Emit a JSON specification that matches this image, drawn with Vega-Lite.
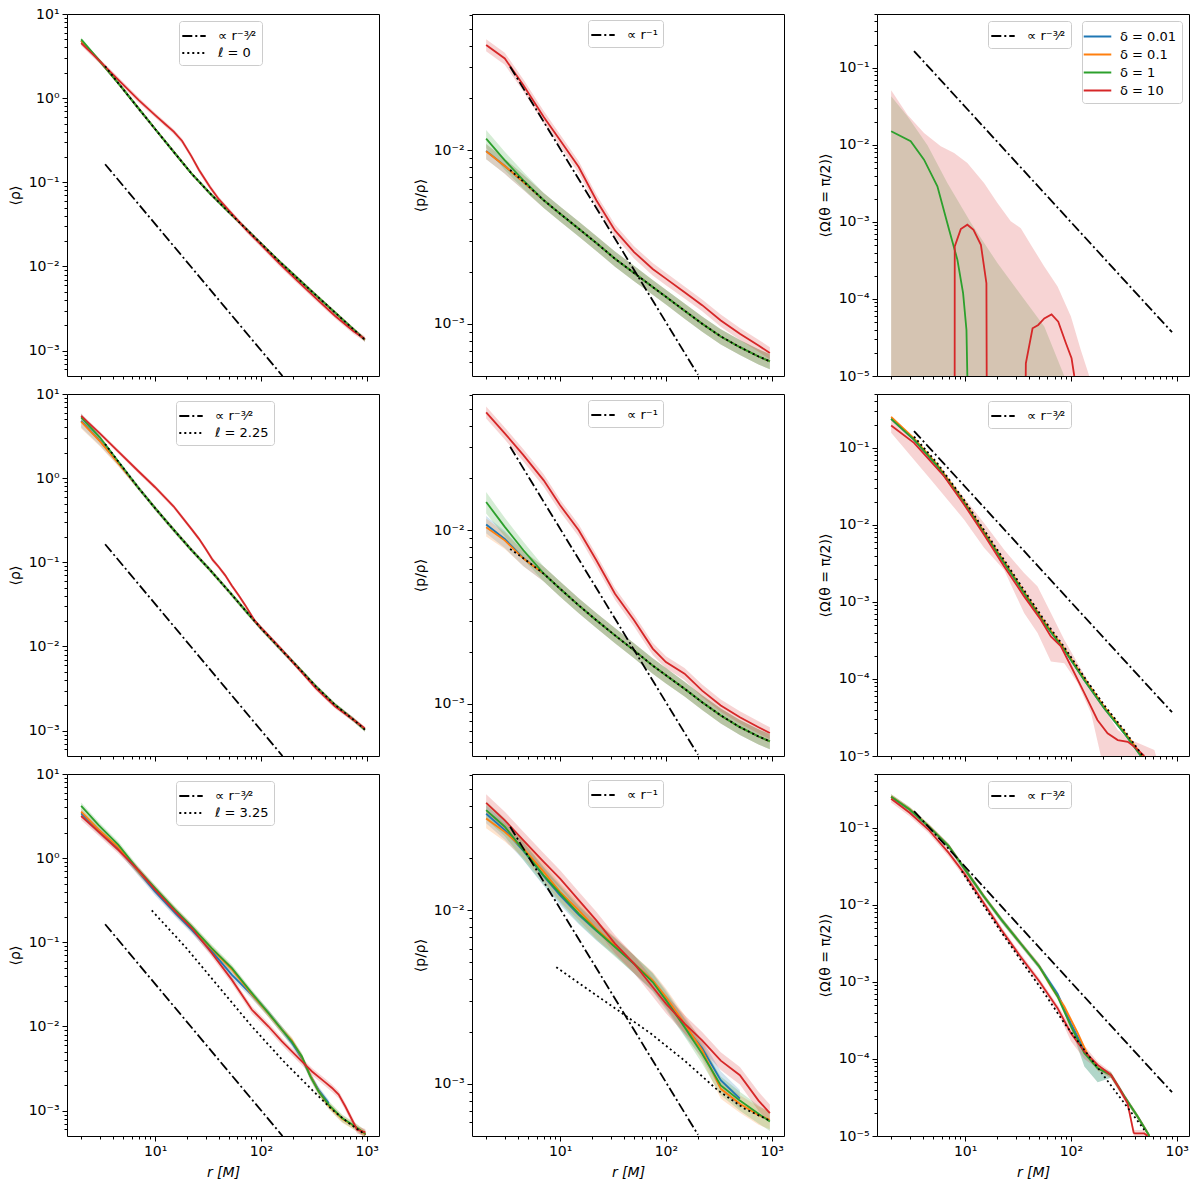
{
"$schema":"https://vega.github.io/schema/vega-lite/v6.json",
"background":"white",
"padding":{"left":7,"top":6,"right":5,"bottom":5},
"columns":3,
"spacing":{"row":18,"column":93},
"bounds":"flush",
"resolve":{"scale":{"x":"independent","y":"independent","color":"independent","fill":"independent","strokeDash":"independent"},"axis":{"x":"independent","y":"independent"},"legend":{"color":"independent","fill":"independent","strokeDash":"independent"}},
"config":{
 "font":"DejaVu Sans",
 "view":{"stroke":"black","strokeWidth":1},
 "axis":{"labelFont":"DejaVu Sans","labelFontSize":14,"labelColor":"black","titleFont":"DejaVu Sans","titleFontSize":14,"titleFontWeight":"normal","titleColor":"black","tickColor":"black","tickWidth":1,"domain":false,"grid":false,"labelFlush":false,"labelOverlap":false,"labelPadding":3},
 "legend":{"labelFont":"DejaVu Sans","labelFontSize":13,"labelColor":"black","symbolStrokeWidth":2,"symbolSize":324,"symbolType":"M-1.3,0H1.3","fillColor":"white","strokeColor":"#cccccc","cornerRadius":3,"padding":5,"rowPadding":0,"labelOffset":14}
},
"datasets":{
"A":[
{"s":"0.01","r":2,"y":4.8,"lo":4.56,"hi":5.04},{"s":"0.01","r":3,"y":2.75,"lo":2.61,"hi":2.89},{"s":"0.01","r":4.5,"y":1.5,"lo":1.43,"hi":1.58},{"s":"0.01","r":7,"y":0.75,"lo":0.71,"hi":0.79},{"s":"0.01","r":10,"y":0.43,"lo":0.41,"hi":0.45},{"s":"0.01","r":15,"y":0.23,"lo":0.219,"hi":0.242},{"s":"0.01","r":22,"y":0.128,"lo":0.122,"hi":0.134},{"s":"0.01","r":33,"y":0.074,"lo":0.07,"hi":0.078},{"s":"0.01","r":50,"y":0.044,"lo":0.042,"hi":0.046},{"s":"0.01","r":75,"y":0.0268,"lo":0.0255,"hi":0.0281},{"s":"0.01","r":100,"y":0.0188,"lo":0.0179,"hi":0.0197},{"s":"0.01","r":150,"y":0.0114,"lo":0.0108,"hi":0.012},{"s":"0.01","r":220,"y":0.0073,"lo":0.0069,"hi":0.0077},{"s":"0.01","r":330,"y":0.00458,"lo":0.00435,"hi":0.00481},{"s":"0.01","r":500,"y":0.00285,"lo":0.00271,"hi":0.00299},{"s":"0.01","r":750,"y":0.00179,"lo":0.0017,"hi":0.00188},{"s":"0.01","r":960,"y":0.00135,"lo":0.00128,"hi":0.00142},
{"s":"0.1","r":2,"y":4.8,"lo":4.56,"hi":5.04},{"s":"0.1","r":3,"y":2.75,"lo":2.61,"hi":2.89},{"s":"0.1","r":4.5,"y":1.5,"lo":1.43,"hi":1.58},{"s":"0.1","r":7,"y":0.75,"lo":0.71,"hi":0.79},{"s":"0.1","r":10,"y":0.43,"lo":0.41,"hi":0.45},{"s":"0.1","r":15,"y":0.23,"lo":0.219,"hi":0.242},{"s":"0.1","r":22,"y":0.128,"lo":0.122,"hi":0.134},{"s":"0.1","r":33,"y":0.074,"lo":0.07,"hi":0.078},{"s":"0.1","r":50,"y":0.044,"lo":0.042,"hi":0.046},{"s":"0.1","r":75,"y":0.0268,"lo":0.0255,"hi":0.0281},{"s":"0.1","r":100,"y":0.0188,"lo":0.0179,"hi":0.0197},{"s":"0.1","r":150,"y":0.0114,"lo":0.0108,"hi":0.012},{"s":"0.1","r":220,"y":0.0073,"lo":0.0069,"hi":0.0077},{"s":"0.1","r":330,"y":0.00458,"lo":0.00435,"hi":0.00481},{"s":"0.1","r":500,"y":0.00285,"lo":0.00271,"hi":0.00299},{"s":"0.1","r":750,"y":0.00179,"lo":0.0017,"hi":0.00188},{"s":"0.1","r":960,"y":0.00135,"lo":0.00128,"hi":0.00142},
{"s":"1","r":2,"y":5.0,"lo":4.75,"hi":5.25},{"s":"1","r":3,"y":2.75,"lo":2.61,"hi":2.89},{"s":"1","r":4.5,"y":1.5,"lo":1.43,"hi":1.58},{"s":"1","r":7,"y":0.75,"lo":0.71,"hi":0.79},{"s":"1","r":10,"y":0.43,"lo":0.41,"hi":0.45},{"s":"1","r":15,"y":0.23,"lo":0.219,"hi":0.242},{"s":"1","r":22,"y":0.128,"lo":0.122,"hi":0.134},{"s":"1","r":33,"y":0.074,"lo":0.07,"hi":0.078},{"s":"1","r":50,"y":0.044,"lo":0.042,"hi":0.046},{"s":"1","r":75,"y":0.0268,"lo":0.0255,"hi":0.0281},{"s":"1","r":100,"y":0.0188,"lo":0.0179,"hi":0.0197},{"s":"1","r":150,"y":0.0114,"lo":0.0108,"hi":0.012},{"s":"1","r":220,"y":0.0073,"lo":0.0069,"hi":0.0077},{"s":"1","r":330,"y":0.00458,"lo":0.00435,"hi":0.00481},{"s":"1","r":500,"y":0.00285,"lo":0.00271,"hi":0.00299},{"s":"1","r":750,"y":0.00179,"lo":0.0017,"hi":0.00188},{"s":"1","r":960,"y":0.00135,"lo":0.00128,"hi":0.00142},
{"s":"10","r":2,"y":4.5,"lo":4.19,"hi":4.82},{"s":"10","r":3,"y":2.75,"lo":2.56,"hi":2.94},{"s":"10","r":4.5,"y":1.65,"lo":1.53,"hi":1.77},{"s":"10","r":7,"y":0.95,"lo":0.88,"hi":1.02},{"s":"10","r":10,"y":0.63,"lo":0.59,"hi":0.67},{"s":"10","r":12.5,"y":0.49,"lo":0.456,"hi":0.524},{"s":"10","r":15,"y":0.4,"lo":0.372,"hi":0.428},{"s":"10","r":18,"y":0.31,"lo":0.288,"hi":0.332},{"s":"10","r":22,"y":0.205,"lo":0.19,"hi":0.22},{"s":"10","r":26,"y":0.14,"lo":0.13,"hi":0.15},{"s":"10","r":33,"y":0.088,"lo":0.0818,"hi":0.0942},{"s":"10","r":40,"y":0.063,"lo":0.0586,"hi":0.0674},{"s":"10","r":50,"y":0.046,"lo":0.0428,"hi":0.0492},{"s":"10","r":75,"y":0.0262,"lo":0.0244,"hi":0.028},{"s":"10","r":100,"y":0.0182,"lo":0.0169,"hi":0.0195},{"s":"10","r":150,"y":0.0108,"lo":0.01,"hi":0.0116},{"s":"10","r":220,"y":0.0068,"lo":0.00632,"hi":0.00728},{"s":"10","r":330,"y":0.0042,"lo":0.00391,"hi":0.00449},{"s":"10","r":500,"y":0.0026,"lo":0.00242,"hi":0.00278},{"s":"10","r":750,"y":0.0017,"lo":0.00158,"hi":0.00182},{"s":"10","r":960,"y":0.00138,"lo":0.00128,"hi":0.00148}
],
"AR":[
{"lab":"∝ r⁻³⁄²","r":3.37,"y":0.164},{"lab":"∝ r⁻³⁄²","r":160,"y":0.0005},
{"lab":"ℓ = 0","r":3.37,"y":2.4},{"lab":"ℓ = 0","r":4.5,"y":1.5},{"lab":"ℓ = 0","r":7,"y":0.75},{"lab":"ℓ = 0","r":10,"y":0.43},{"lab":"ℓ = 0","r":15,"y":0.23},{"lab":"ℓ = 0","r":22,"y":0.128},{"lab":"ℓ = 0","r":33,"y":0.074},{"lab":"ℓ = 0","r":50,"y":0.044},{"lab":"ℓ = 0","r":75,"y":0.0268},{"lab":"ℓ = 0","r":100,"y":0.0188},{"lab":"ℓ = 0","r":150,"y":0.0114},{"lab":"ℓ = 0","r":220,"y":0.0073},{"lab":"ℓ = 0","r":330,"y":0.00458},{"lab":"ℓ = 0","r":500,"y":0.00285},{"lab":"ℓ = 0","r":750,"y":0.00179},{"lab":"ℓ = 0","r":960,"y":0.00135}
],
"B":[
{"s":"0.01","r":2,"y":0.0099,"lo":0.00888,"hi":0.01086},{"s":"0.01","r":3,"y":0.00812,"lo":0.00731,"hi":0.00893},{"s":"0.01","r":4.5,"y":0.00656,"lo":0.0059,"hi":0.00722},{"s":"0.01","r":7,"y":0.00515,"lo":0.00464,"hi":0.00567},{"s":"0.01","r":10,"y":0.00431,"lo":0.00388,"hi":0.00474},{"s":"0.01","r":15,"y":0.00353,"lo":0.00318,"hi":0.00388},{"s":"0.01","r":22,"y":0.00292,"lo":0.00263,"hi":0.00321},{"s":"0.01","r":33,"y":0.00237,"lo":0.00213,"hi":0.00261},{"s":"0.01","r":50,"y":0.00196,"lo":0.00176,"hi":0.00216},{"s":"0.01","r":75,"y":0.00163,"lo":0.00147,"hi":0.00179},{"s":"0.01","r":100,"y":0.00143,"lo":0.00129,"hi":0.00157},{"s":"0.01","r":150,"y":0.00119,"lo":0.00107,"hi":0.00131},{"s":"0.01","r":220,"y":0.001,"lo":0.0009,"hi":0.0011},{"s":"0.01","r":330,"y":0.000845,"lo":0.00076,"hi":0.00093},{"s":"0.01","r":500,"y":0.000733,"lo":0.00066,"hi":0.000806},{"s":"0.01","r":750,"y":0.000648,"lo":0.000583,"hi":0.000713},{"s":"0.01","r":960,"y":0.000607,"lo":0.000546,"hi":0.000668},
{"s":"0.1","r":2,"y":0.00987,"lo":0.00888,"hi":0.01086},{"s":"0.1","r":3,"y":0.00812,"lo":0.00731,"hi":0.00893},{"s":"0.1","r":4.5,"y":0.00656,"lo":0.0059,"hi":0.00722},{"s":"0.1","r":7,"y":0.00515,"lo":0.00464,"hi":0.00567},{"s":"0.1","r":10,"y":0.00431,"lo":0.00388,"hi":0.00474},{"s":"0.1","r":15,"y":0.00353,"lo":0.00318,"hi":0.00388},{"s":"0.1","r":22,"y":0.00292,"lo":0.00263,"hi":0.00321},{"s":"0.1","r":33,"y":0.00237,"lo":0.00213,"hi":0.00261},{"s":"0.1","r":50,"y":0.00196,"lo":0.00176,"hi":0.00216},{"s":"0.1","r":75,"y":0.00163,"lo":0.00147,"hi":0.00179},{"s":"0.1","r":100,"y":0.00143,"lo":0.00129,"hi":0.00157},{"s":"0.1","r":150,"y":0.00119,"lo":0.00107,"hi":0.00131},{"s":"0.1","r":220,"y":0.001,"lo":0.0009,"hi":0.0011},{"s":"0.1","r":330,"y":0.000845,"lo":0.00076,"hi":0.00093},{"s":"0.1","r":500,"y":0.000733,"lo":0.00066,"hi":0.000806},{"s":"0.1","r":750,"y":0.000648,"lo":0.000583,"hi":0.000713},{"s":"0.1","r":960,"y":0.000607,"lo":0.000546,"hi":0.000668},
{"s":"1","r":2,"y":0.01167,"lo":0.0103,"hi":0.0131},{"s":"1","r":3,"y":0.00875,"lo":0.0077,"hi":0.0098},{"s":"1","r":4.5,"y":0.00671,"lo":0.006,"hi":0.0075},{"s":"1","r":7,"y":0.00515,"lo":0.00464,"hi":0.00567},{"s":"1","r":10,"y":0.00431,"lo":0.00388,"hi":0.00474},{"s":"1","r":15,"y":0.00353,"lo":0.00318,"hi":0.00388},{"s":"1","r":22,"y":0.00292,"lo":0.00263,"hi":0.00321},{"s":"1","r":33,"y":0.00237,"lo":0.00213,"hi":0.00261},{"s":"1","r":50,"y":0.00196,"lo":0.00176,"hi":0.00216},{"s":"1","r":75,"y":0.00163,"lo":0.00147,"hi":0.00179},{"s":"1","r":100,"y":0.00143,"lo":0.00129,"hi":0.00157},{"s":"1","r":150,"y":0.00119,"lo":0.00107,"hi":0.00131},{"s":"1","r":220,"y":0.001,"lo":0.0009,"hi":0.0011},{"s":"1","r":330,"y":0.000845,"lo":0.00076,"hi":0.00093},{"s":"1","r":500,"y":0.000733,"lo":0.00066,"hi":0.000806},{"s":"1","r":750,"y":0.000648,"lo":0.000583,"hi":0.000713},{"s":"1","r":960,"y":0.000607,"lo":0.000546,"hi":0.000668},
{"s":"10","r":2,"y":0.0404,"lo":0.0372,"hi":0.0436},{"s":"10","r":3,"y":0.0338,"lo":0.0311,"hi":0.0365},{"s":"10","r":4.5,"y":0.0237,"lo":0.0218,"hi":0.0256},{"s":"10","r":7,"y":0.01557,"lo":0.01432,"hi":0.01682},{"s":"10","r":10,"y":0.01143,"lo":0.01052,"hi":0.01234},{"s":"10","r":15,"y":0.008,"lo":0.00736,"hi":0.00864},{"s":"10","r":22,"y":0.00515,"lo":0.00474,"hi":0.00556},{"s":"10","r":33,"y":0.00345,"lo":0.00317,"hi":0.00373},{"s":"10","r":50,"y":0.00259,"lo":0.00238,"hi":0.0028},{"s":"10","r":75,"y":0.00207,"lo":0.0019,"hi":0.00224},{"s":"10","r":100,"y":0.00182,"lo":0.00167,"hi":0.00197},{"s":"10","r":150,"y":0.00152,"lo":0.0014,"hi":0.00164},{"s":"10","r":220,"y":0.00128,"lo":0.00118,"hi":0.00138},{"s":"10","r":330,"y":0.001045,"lo":0.00096,"hi":0.00113},{"s":"10","r":500,"y":0.000875,"lo":0.000805,"hi":0.000945},{"s":"10","r":750,"y":0.00075,"lo":0.00069,"hi":0.00081},{"s":"10","r":960,"y":0.000678,"lo":0.000624,"hi":0.000732}
],
"BR":[
{"lab":"∝ r⁻¹","r":3.37,"y":0.0303},{"lab":"∝ r⁻¹","r":201,"y":0.000508},
{"lab":"ℓ","r":3.37,"y":0.0077},{"lab":"ℓ","r":4.5,"y":0.0066},{"lab":"ℓ","r":7,"y":0.00515},{"lab":"ℓ","r":10,"y":0.00431},{"lab":"ℓ","r":15,"y":0.00353},{"lab":"ℓ","r":22,"y":0.00292},{"lab":"ℓ","r":33,"y":0.00237},{"lab":"ℓ","r":50,"y":0.00196},{"lab":"ℓ","r":75,"y":0.00163},{"lab":"ℓ","r":100,"y":0.00143},{"lab":"ℓ","r":150,"y":0.00119},{"lab":"ℓ","r":220,"y":0.001},{"lab":"ℓ","r":330,"y":0.000845},{"lab":"ℓ","r":500,"y":0.000733},{"lab":"ℓ","r":750,"y":0.000648},{"lab":"ℓ","r":960,"y":0.000607}
],
"C":[
{"s":"1","r":2,"lo":0.00001,"hi":0.0428},{"s":"1","r":2.85,"lo":0.00001,"hi":0.0235},{"s":"1","r":4.41,"lo":0.00001,"hi":0.0099},{"s":"1","r":6.8,"lo":0.00001,"hi":0.0032},{"s":"1","r":11.3,"lo":0.00001,"hi":0.000985},{"s":"1","r":20.2,"lo":0.00001,"hi":0.000292},{"s":"1","r":36.1,"lo":0.00001,"hi":0.000099},{"s":"1","r":56,"lo":0.00001,"hi":0.0000438},{"s":"1","r":86.5,"lo":0.00001,"hi":0.00001},
{"s":"10","r":2,"lo":0.00001,"hi":0.0513},{"s":"10","r":2.85,"lo":0.00001,"hi":0.0247},{"s":"10","r":4.09,"lo":0.00001,"hi":0.0143},{"s":"10","r":5.89,"lo":0.00001,"hi":0.0096},{"s":"10","r":7.87,"lo":0.00001,"hi":0.00785},{"s":"10","r":10.5,"lo":0.00001,"hi":0.00582},{"s":"10","r":15.1,"lo":0.00001,"hi":0.0032},{"s":"10","r":20.2,"lo":0.00001,"hi":0.00176},{"s":"10","r":27,"lo":0.00001,"hi":0.00102},{"s":"10","r":33.6,"lo":0.00001,"hi":0.00083},{"s":"10","r":41.8,"lo":0.00001,"hi":0.000505},{"s":"10","r":56,"lo":0.00001,"hi":0.000264},{"s":"10","r":74.8,"lo":0.00001,"hi":0.000145},{"s":"10","r":100,"lo":0.00001,"hi":0.000059},{"s":"10","r":124,"lo":0.00001,"hi":0.0000218},{"s":"10","r":149,"lo":0.00001,"hi":0.00001},
{"s":"1","r":2,"y":0.01503},{"s":"1","r":3.06,"y":0.01114},{"s":"1","r":4.09,"y":0.00643},{"s":"1","r":5.47,"y":0.0029},{"s":"1","r":7.06,"y":0.00079},{"s":"1","r":8.46,"y":0.000322},{"s":"1","r":9.57,"y":0.000119},{"s":"1","r":10.3,"y":0.0000396},{"s":"1","r":10.5,"y":0.00001},
{"s":"10","g":"a","r":7.97,"y":0.00001},{"s":"10","g":"a","r":7.98,"y":0.00048},{"s":"10","g":"a","r":9.1,"y":0.000807},{"s":"10","g":"a","r":10.5,"y":0.00092},{"s":"10","g":"a","r":12,"y":0.00079},{"s":"10","g":"a","r":14.1,"y":0.000505},{"s":"10","g":"a","r":15.9,"y":0.00016},{"s":"10","g":"a","r":16,"y":0.00001},
{"s":"10","g":"b","r":37.4,"y":0.00001},{"s":"10","g":"b","r":37.5,"y":0.0000146},{"s":"10","g":"b","r":43.4,"y":0.0000417},{"s":"10","g":"b","r":49.1,"y":0.000046},{"s":"10","g":"b","r":56,"y":0.000056},{"s":"10","g":"b","r":65.6,"y":0.000063},{"s":"10","g":"b","r":75.9,"y":0.0000508},{"s":"10","g":"b","r":89.7,"y":0.0000266},{"s":"10","g":"b","r":101.4,"y":0.000017},{"s":"10","g":"b","r":107.6,"y":0.00001}
],
"CR":[
{"lab":"∝ r⁻³⁄²","r":3.29,"y":0.165},{"lab":"∝ r⁻³⁄²","r":903,"y":0.000037}
],
"D":[
{"s":"0.01","r":2,"y":4.8,"lo":4.0,"hi":5.9},{"s":"0.01","r":3,"y":2.8,"lo":2.45,"hi":3.2},{"s":"0.01","r":4.5,"y":1.52,"lo":1.4,"hi":1.64},{"s":"0.01","r":7,"y":0.76,"lo":0.714,"hi":0.806},{"s":"0.01","r":10,"y":0.44,"lo":0.414,"hi":0.466},{"s":"0.01","r":15,"y":0.243,"lo":0.228,"hi":0.258},{"s":"0.01","r":22,"y":0.141,"lo":0.133,"hi":0.149},{"s":"0.01","r":33,"y":0.0814,"lo":0.0765,"hi":0.0863},{"s":"0.01","r":50,"y":0.045,"lo":0.0423,"hi":0.0477},{"s":"0.01","r":75,"y":0.0249,"lo":0.0234,"hi":0.0264},{"s":"0.01","r":100,"y":0.0165,"lo":0.0155,"hi":0.0175},{"s":"0.01","r":150,"y":0.0096,"lo":0.009,"hi":0.0102},{"s":"0.01","r":220,"y":0.0058,"lo":0.00545,"hi":0.00615},{"s":"0.01","r":330,"y":0.00336,"lo":0.00316,"hi":0.00356},{"s":"0.01","r":500,"y":0.00203,"lo":0.00191,"hi":0.00215},{"s":"0.01","r":750,"y":0.00135,"lo":0.00127,"hi":0.00143},{"s":"0.01","r":960,"y":0.00103,"lo":0.00097,"hi":0.00109},
{"s":"0.1","r":2,"y":4.7,"lo":3.9,"hi":5.8},{"s":"0.1","r":3,"y":2.75,"lo":2.4,"hi":3.2},{"s":"0.1","r":4.5,"y":1.5,"lo":1.38,"hi":1.62},{"s":"0.1","r":7,"y":0.76,"lo":0.714,"hi":0.806},{"s":"0.1","r":10,"y":0.44,"lo":0.414,"hi":0.466},{"s":"0.1","r":15,"y":0.243,"lo":0.228,"hi":0.258},{"s":"0.1","r":22,"y":0.141,"lo":0.133,"hi":0.149},{"s":"0.1","r":33,"y":0.0814,"lo":0.0765,"hi":0.0863},{"s":"0.1","r":50,"y":0.045,"lo":0.0423,"hi":0.0477},{"s":"0.1","r":75,"y":0.0249,"lo":0.0234,"hi":0.0264},{"s":"0.1","r":100,"y":0.0165,"lo":0.0155,"hi":0.0175},{"s":"0.1","r":150,"y":0.0096,"lo":0.009,"hi":0.0102},{"s":"0.1","r":220,"y":0.0058,"lo":0.00545,"hi":0.00615},{"s":"0.1","r":330,"y":0.00336,"lo":0.00316,"hi":0.00356},{"s":"0.1","r":500,"y":0.00203,"lo":0.00191,"hi":0.00215},{"s":"0.1","r":750,"y":0.00135,"lo":0.00127,"hi":0.00143},{"s":"0.1","r":960,"y":0.00103,"lo":0.00097,"hi":0.00109},
{"s":"1","r":2,"y":5.28,"lo":4.96,"hi":5.6},{"s":"1","r":3,"y":3.06,"lo":2.88,"hi":3.24},{"s":"1","r":4.5,"y":1.57,"lo":1.48,"hi":1.66},{"s":"1","r":7,"y":0.76,"lo":0.714,"hi":0.806},{"s":"1","r":10,"y":0.44,"lo":0.414,"hi":0.466},{"s":"1","r":15,"y":0.243,"lo":0.228,"hi":0.258},{"s":"1","r":22,"y":0.141,"lo":0.133,"hi":0.149},{"s":"1","r":33,"y":0.0814,"lo":0.0765,"hi":0.0863},{"s":"1","r":50,"y":0.045,"lo":0.0423,"hi":0.0477},{"s":"1","r":75,"y":0.0249,"lo":0.0234,"hi":0.0264},{"s":"1","r":100,"y":0.0165,"lo":0.0155,"hi":0.0175},{"s":"1","r":150,"y":0.0096,"lo":0.009,"hi":0.0102},{"s":"1","r":220,"y":0.0058,"lo":0.00545,"hi":0.00615},{"s":"1","r":330,"y":0.00336,"lo":0.00316,"hi":0.00356},{"s":"1","r":500,"y":0.00203,"lo":0.00191,"hi":0.00215},{"s":"1","r":750,"y":0.00135,"lo":0.00127,"hi":0.00143},{"s":"1","r":960,"y":0.00103,"lo":0.00097,"hi":0.00109},
{"s":"10","r":2,"y":5.5,"lo":5.17,"hi":5.83},{"s":"10","r":3,"y":3.41,"lo":3.21,"hi":3.61},{"s":"10","r":4.5,"y":2.07,"lo":1.95,"hi":2.19},{"s":"10","r":7,"y":1.2,"lo":1.13,"hi":1.27},{"s":"10","r":10,"y":0.78,"lo":0.733,"hi":0.827},{"s":"10","r":15,"y":0.46,"lo":0.432,"hi":0.488},{"s":"10","r":22,"y":0.25,"lo":0.235,"hi":0.265},{"s":"10","r":26,"y":0.19,"lo":0.179,"hi":0.201},{"s":"10","r":30,"y":0.145,"lo":0.136,"hi":0.154},{"s":"10","r":35,"y":0.107,"lo":0.1,"hi":0.114},{"s":"10","r":40,"y":0.088,"lo":0.083,"hi":0.093},{"s":"10","r":46,"y":0.07,"lo":0.066,"hi":0.074},{"s":"10","r":53,"y":0.053,"lo":0.05,"hi":0.056},{"s":"10","r":62,"y":0.04,"lo":0.0376,"hi":0.0424},{"s":"10","r":71,"y":0.031,"lo":0.0291,"hi":0.0329},{"s":"10","r":88,"y":0.02,"lo":0.0188,"hi":0.0212},{"s":"10","r":100,"y":0.0168,"lo":0.0158,"hi":0.0178},{"s":"10","r":150,"y":0.0098,"lo":0.0092,"hi":0.0104},{"s":"10","r":220,"y":0.0057,"lo":0.00536,"hi":0.00604},{"s":"10","r":330,"y":0.0032,"lo":0.00301,"hi":0.00339},{"s":"10","r":500,"y":0.00195,"lo":0.00183,"hi":0.00207},{"s":"10","r":750,"y":0.00135,"lo":0.00127,"hi":0.00143},{"s":"10","r":960,"y":0.00106,"lo":0.001,"hi":0.00112}
],
"DR":[
{"lab":"∝ r⁻³⁄²","r":3.37,"y":0.164},{"lab":"∝ r⁻³⁄²","r":160,"y":0.0005},
{"lab":"ℓ = 2.25","r":3.37,"y":2.55},{"lab":"ℓ = 2.25","r":4.5,"y":1.57},{"lab":"ℓ = 2.25","r":7,"y":0.76},{"lab":"ℓ = 2.25","r":10,"y":0.44},{"lab":"ℓ = 2.25","r":15,"y":0.243},{"lab":"ℓ = 2.25","r":22,"y":0.141},{"lab":"ℓ = 2.25","r":33,"y":0.0814},{"lab":"ℓ = 2.25","r":50,"y":0.045},{"lab":"ℓ = 2.25","r":75,"y":0.0249},{"lab":"ℓ = 2.25","r":100,"y":0.0165},{"lab":"ℓ = 2.25","r":150,"y":0.0096},{"lab":"ℓ = 2.25","r":220,"y":0.0058},{"lab":"ℓ = 2.25","r":330,"y":0.00336},{"lab":"ℓ = 2.25","r":500,"y":0.00203},{"lab":"ℓ = 2.25","r":750,"y":0.00135},{"lab":"ℓ = 2.25","r":960,"y":0.00103}
],
"E":[
{"s":"0.01","r":2,"y":0.0108,"lo":0.0096,"hi":0.0121},{"s":"0.01","r":3,"y":0.0089,"lo":0.0079,"hi":0.0099},{"s":"0.01","r":4.5,"y":0.0069,"lo":0.0062,"hi":0.0076},{"s":"0.01","r":7,"y":0.00562,"lo":0.00506,"hi":0.00618},{"s":"0.01","r":10,"y":0.0046,"lo":0.00414,"hi":0.00506},{"s":"0.01","r":15,"y":0.00369,"lo":0.00332,"hi":0.00406},{"s":"0.01","r":22,"y":0.00303,"lo":0.00273,"hi":0.00333},{"s":"0.01","r":33,"y":0.00248,"lo":0.00223,"hi":0.00273},{"s":"0.01","r":50,"y":0.00203,"lo":0.00183,"hi":0.00223},{"s":"0.01","r":75,"y":0.00166,"lo":0.00149,"hi":0.00183},{"s":"0.01","r":100,"y":0.00146,"lo":0.00131,"hi":0.00161},{"s":"0.01","r":150,"y":0.00122,"lo":0.0011,"hi":0.00134},{"s":"0.01","r":220,"y":0.00102,"lo":0.00092,"hi":0.00112},{"s":"0.01","r":330,"y":0.000857,"lo":0.00077,"hi":0.00094},{"s":"0.01","r":500,"y":0.000733,"lo":0.00066,"hi":0.000806},{"s":"0.01","r":750,"y":0.000648,"lo":0.000583,"hi":0.000713},{"s":"0.01","r":960,"y":0.000607,"lo":0.000546,"hi":0.000668},
{"s":"0.1","r":2,"y":0.0104,"lo":0.0092,"hi":0.0117},{"s":"0.1","r":3,"y":0.00875,"lo":0.0078,"hi":0.0097},{"s":"0.1","r":4.5,"y":0.00687,"lo":0.0062,"hi":0.0076},{"s":"0.1","r":7,"y":0.00562,"lo":0.00506,"hi":0.00618},{"s":"0.1","r":10,"y":0.0046,"lo":0.00414,"hi":0.00506},{"s":"0.1","r":15,"y":0.00369,"lo":0.00332,"hi":0.00406},{"s":"0.1","r":22,"y":0.00303,"lo":0.00273,"hi":0.00333},{"s":"0.1","r":33,"y":0.00248,"lo":0.00223,"hi":0.00273},{"s":"0.1","r":50,"y":0.00203,"lo":0.00183,"hi":0.00223},{"s":"0.1","r":75,"y":0.00166,"lo":0.00149,"hi":0.00183},{"s":"0.1","r":100,"y":0.00146,"lo":0.00131,"hi":0.00161},{"s":"0.1","r":150,"y":0.00122,"lo":0.0011,"hi":0.00134},{"s":"0.1","r":220,"y":0.00102,"lo":0.00092,"hi":0.00112},{"s":"0.1","r":330,"y":0.000857,"lo":0.00077,"hi":0.00094},{"s":"0.1","r":500,"y":0.000733,"lo":0.00066,"hi":0.000806},{"s":"0.1","r":750,"y":0.000648,"lo":0.000583,"hi":0.000713},{"s":"0.1","r":960,"y":0.000607,"lo":0.000546,"hi":0.000668},
{"s":"1","r":2,"y":0.01455,"lo":0.0125,"hi":0.0166},{"s":"1","r":3,"y":0.01046,"lo":0.0092,"hi":0.0118},{"s":"1","r":4.5,"y":0.00767,"lo":0.0068,"hi":0.0086},{"s":"1","r":7,"y":0.00562,"lo":0.00506,"hi":0.00618},{"s":"1","r":10,"y":0.0046,"lo":0.00414,"hi":0.00506},{"s":"1","r":15,"y":0.00369,"lo":0.00332,"hi":0.00406},{"s":"1","r":22,"y":0.00303,"lo":0.00273,"hi":0.00333},{"s":"1","r":33,"y":0.00248,"lo":0.00223,"hi":0.00273},{"s":"1","r":50,"y":0.00203,"lo":0.00183,"hi":0.00223},{"s":"1","r":75,"y":0.00166,"lo":0.00149,"hi":0.00183},{"s":"1","r":100,"y":0.00146,"lo":0.00131,"hi":0.00161},{"s":"1","r":150,"y":0.00122,"lo":0.0011,"hi":0.00134},{"s":"1","r":220,"y":0.00102,"lo":0.00092,"hi":0.00112},{"s":"1","r":330,"y":0.000857,"lo":0.00077,"hi":0.00094},{"s":"1","r":500,"y":0.000733,"lo":0.00066,"hi":0.000806},{"s":"1","r":750,"y":0.000648,"lo":0.000583,"hi":0.000713},{"s":"1","r":960,"y":0.000607,"lo":0.000546,"hi":0.000668},
{"s":"10","r":2,"y":0.0478,"lo":0.044,"hi":0.0516},{"s":"10","r":3,"y":0.0362,"lo":0.0333,"hi":0.0391},{"s":"10","r":4.5,"y":0.0271,"lo":0.0249,"hi":0.0293},{"s":"10","r":7,"y":0.0194,"lo":0.0178,"hi":0.021},{"s":"10","r":10,"y":0.01393,"lo":0.0128,"hi":0.015},{"s":"10","r":15,"y":0.01,"lo":0.0092,"hi":0.0108},{"s":"10","r":22,"y":0.00671,"lo":0.00617,"hi":0.00725},{"s":"10","r":33,"y":0.00431,"lo":0.00397,"hi":0.00465},{"s":"10","r":50,"y":0.00303,"lo":0.00279,"hi":0.00327},{"s":"10","r":75,"y":0.00208,"lo":0.00191,"hi":0.00225},{"s":"10","r":100,"y":0.00174,"lo":0.0016,"hi":0.00188},{"s":"10","r":150,"y":0.00149,"lo":0.00137,"hi":0.00161},{"s":"10","r":220,"y":0.00119,"lo":0.00109,"hi":0.00129},{"s":"10","r":330,"y":0.000978,"lo":0.0009,"hi":0.00106},{"s":"10","r":500,"y":0.000837,"lo":0.00077,"hi":0.000904},{"s":"10","r":750,"y":0.000733,"lo":0.000674,"hi":0.000792},{"s":"10","r":960,"y":0.000678,"lo":0.000624,"hi":0.000732}
],
"ER":[
{"lab":"∝ r⁻¹","r":3.37,"y":0.0303},{"lab":"∝ r⁻¹","r":201,"y":0.000508},
{"lab":"ℓ","r":3.37,"y":0.0078},{"lab":"ℓ","r":4.5,"y":0.0069},{"lab":"ℓ","r":7,"y":0.00562},{"lab":"ℓ","r":10,"y":0.0046},{"lab":"ℓ","r":15,"y":0.00369},{"lab":"ℓ","r":22,"y":0.00303},{"lab":"ℓ","r":33,"y":0.00248},{"lab":"ℓ","r":50,"y":0.00203},{"lab":"ℓ","r":75,"y":0.00166},{"lab":"ℓ","r":100,"y":0.00146},{"lab":"ℓ","r":150,"y":0.00122},{"lab":"ℓ","r":220,"y":0.00102},{"lab":"ℓ","r":330,"y":0.000857},{"lab":"ℓ","r":500,"y":0.000733},{"lab":"ℓ","r":750,"y":0.000648},{"lab":"ℓ","r":960,"y":0.000607}
],
"F":[
{"s":"0.01","r":2,"y":0.238,"lo":0.226,"hi":0.25},{"s":"0.01","r":3.29,"y":0.128,"lo":0.122,"hi":0.134},{"s":"0.01","r":5.47,"y":0.0578,"lo":0.0549,"hi":0.0607},{"s":"0.01","r":9.8,"y":0.0193,"lo":0.0183,"hi":0.0203},{"s":"0.01","r":15.1,"y":0.00785,"lo":0.00746,"hi":0.00824},{"s":"0.01","r":23.4,"y":0.0032,"lo":0.00304,"hi":0.00336},{"s":"0.01","r":36.1,"y":0.0013,"lo":0.00124,"hi":0.00137},{"s":"0.01","r":56,"y":0.00053,"lo":0.0005,"hi":0.00056},{"s":"0.01","r":86.5,"y":0.000239,"lo":0.000227,"hi":0.000251},{"s":"0.01","r":133.7,"y":0.000097,"lo":0.000092,"hi":0.000102},{"s":"0.01","r":206.6,"y":0.0000417,"lo":0.0000396,"hi":0.0000438},{"s":"0.01","r":320,"y":0.0000197,"lo":0.0000187,"hi":0.0000207},{"s":"0.01","r":459,"y":0.00001,"lo":0.00001,"hi":0.0000105},
{"s":"0.1","r":2,"y":0.253,"lo":0.226,"hi":0.26},{"s":"0.1","r":3.29,"y":0.133,"lo":0.122,"hi":0.138},{"s":"0.1","r":5.47,"y":0.06,"lo":0.0549,"hi":0.0625},{"s":"0.1","r":9.8,"y":0.0201,"lo":0.0183,"hi":0.0209},{"s":"0.1","r":15.1,"y":0.00816,"lo":0.00746,"hi":0.0085},{"s":"0.1","r":23.4,"y":0.00333,"lo":0.00304,"hi":0.00347},{"s":"0.1","r":36.1,"y":0.00135,"lo":0.00124,"hi":0.00141},{"s":"0.1","r":56,"y":0.00055,"lo":0.0005,"hi":0.00058},{"s":"0.1","r":86.5,"y":0.000249,"lo":0.000227,"hi":0.00026},{"s":"0.1","r":133.7,"y":0.000101,"lo":0.000092,"hi":0.000106},{"s":"0.1","r":206.6,"y":0.0000434,"lo":0.0000396,"hi":0.0000452},{"s":"0.1","r":320,"y":0.0000205,"lo":0.0000187,"hi":0.0000214},{"s":"0.1","r":475,"y":0.00001,"lo":0.00001,"hi":0.0000105},
{"s":"1","r":2,"y":0.238,"lo":0.226,"hi":0.25},{"s":"1","r":3.29,"y":0.128,"lo":0.122,"hi":0.134},{"s":"1","r":5.47,"y":0.0578,"lo":0.0549,"hi":0.0607},{"s":"1","r":9.8,"y":0.0193,"lo":0.0183,"hi":0.0203},{"s":"1","r":15.1,"y":0.00785,"lo":0.00746,"hi":0.00824},{"s":"1","r":23.4,"y":0.0032,"lo":0.00304,"hi":0.00336},{"s":"1","r":36.1,"y":0.0013,"lo":0.00124,"hi":0.00137},{"s":"1","r":56,"y":0.00053,"lo":0.0005,"hi":0.00056},{"s":"1","r":86.5,"y":0.000239,"lo":0.000227,"hi":0.000251},{"s":"1","r":133.7,"y":0.000097,"lo":0.000092,"hi":0.000102},{"s":"1","r":206.6,"y":0.0000417,"lo":0.0000396,"hi":0.0000438},{"s":"1","r":320,"y":0.0000197,"lo":0.0000187,"hi":0.0000207},{"s":"1","r":459,"y":0.00001,"lo":0.00001,"hi":0.0000105},
{"s":"10","r":2,"lo":0.157,"hi":0.258},{"s":"10","r":4.73,"lo":0.0387,"hi":0.078},{"s":"10","r":9.8,"lo":0.0117,"hi":0.0224},{"s":"10","r":15.1,"lo":0.00506,"hi":0.0106},{"s":"10","r":23.4,"lo":0.00259,"hi":0.00476},{"s":"10","r":36.1,"lo":0.000716,"hi":0.00237},{"s":"10","r":48.4,"lo":0.000394,"hi":0.00159},{"s":"10","r":64.7,"lo":0.000168,"hi":0.000716},{"s":"10","r":86.5,"lo":0.00016,"hi":0.000322},{"s":"10","r":116,"lo":0.0000881,"hi":0.00016},{"s":"10","r":155,"lo":0.0000359,"hi":0.0000796},{"s":"10","r":192,"lo":0.00001,"hi":0.0000484},{"s":"10","r":277,"lo":0.00001,"hi":0.0000218},{"s":"10","r":370,"lo":0.00001,"hi":0.0000161},{"s":"10","r":615,"lo":0.00001,"hi":0.000012},{"s":"10","r":637,"lo":0.00001,"hi":0.00001},
{"s":"10","r":2,"y":0.195},{"s":"10","r":3.29,"y":0.116},{"s":"10","r":6.33,"y":0.0428},{"s":"10","r":9.8,"y":0.0183},{"s":"10","r":15.1,"y":0.00746},{"s":"10","r":23.4,"y":0.00289},{"s":"10","r":36.1,"y":0.00118},{"s":"10","r":51.9,"y":0.000586},{"s":"10","r":64.6,"y":0.000356},{"s":"10","r":80.6,"y":0.000264},{"s":"10","r":100.5,"y":0.000145},{"s":"10","r":134,"y":0.0000653},{"s":"10","r":178,"y":0.0000294},{"s":"10","r":222,"y":0.0000197},{"s":"10","r":277,"y":0.0000161},{"s":"10","r":345,"y":0.0000153},{"s":"10","r":398,"y":0.0000132},{"s":"10","r":494,"y":0.00001}
],
"FR":[
{"lab":"∝ r⁻³⁄²","r":3.29,"y":0.165},{"lab":"∝ r⁻³⁄²","r":903,"y":0.000037},
{"lab":"ℓ","r":3.29,"y":0.14},{"lab":"ℓ","r":5.47,"y":0.063},{"lab":"ℓ","r":9.8,"y":0.021},{"lab":"ℓ","r":15.1,"y":0.0086},{"lab":"ℓ","r":23.4,"y":0.0035},{"lab":"ℓ","r":36.1,"y":0.00142},{"lab":"ℓ","r":56,"y":0.00058},{"lab":"ℓ","r":86.5,"y":0.00026},{"lab":"ℓ","r":133.7,"y":0.000106},{"lab":"ℓ","r":206.6,"y":0.0000455},{"lab":"ℓ","r":320,"y":0.0000215},{"lab":"ℓ","r":459,"y":0.0000108},{"lab":"ℓ","r":480,"y":0.00001}
],
"G":[
{"s":"0.01","r":2,"y":3.41,"lo":3.07,"hi":3.75},{"s":"0.01","r":2.91,"y":2.16,"lo":1.94,"hi":2.38},{"s":"0.01","r":4.5,"y":1.31,"lo":1.18,"hi":1.44},{"s":"0.01","r":6.95,"y":0.69,"lo":0.62,"hi":0.76},{"s":"0.01","r":10,"y":0.4,"lo":0.36,"hi":0.44},{"s":"0.01","r":15.5,"y":0.222,"lo":0.2,"hi":0.244},{"s":"0.01","r":22.2,"y":0.141,"lo":0.127,"hi":0.155},{"s":"0.01","r":34.4,"y":0.078,"lo":0.0702,"hi":0.0858},{"s":"0.01","r":53.2,"y":0.041,"lo":0.0369,"hi":0.0451},{"s":"0.01","r":82.2,"y":0.0238,"lo":0.0214,"hi":0.0262},{"s":"0.01","r":118,"y":0.0144,"lo":0.013,"hi":0.0158},{"s":"0.01","r":158,"y":0.00914,"lo":0.00823,"hi":0.01005},{"s":"0.01","r":196,"y":0.0064,"lo":0.00576,"hi":0.00704},{"s":"0.01","r":244,"y":0.0042,"lo":0.00378,"hi":0.00462},{"s":"0.01","r":293,"y":0.0026,"lo":0.00234,"hi":0.00286},{"s":"0.01","r":351,"y":0.00176,"lo":0.00158,"hi":0.00194},{"s":"0.01","r":437,"y":0.00123,"lo":0.00111,"hi":0.00135},
{"s":"0.1","r":2,"y":3.57,"lo":3.21,"hi":3.93},{"s":"0.1","r":2.91,"y":2.2,"lo":1.98,"hi":2.42},{"s":"0.1","r":4.5,"y":1.35,"lo":1.22,"hi":1.49},{"s":"0.1","r":6.95,"y":0.7,"lo":0.63,"hi":0.77},{"s":"0.1","r":10,"y":0.43,"lo":0.387,"hi":0.473},{"s":"0.1","r":15.5,"y":0.237,"lo":0.213,"hi":0.261},{"s":"0.1","r":22.2,"y":0.15,"lo":0.135,"hi":0.165},{"s":"0.1","r":34.4,"y":0.083,"lo":0.0747,"hi":0.0913},{"s":"0.1","r":53.2,"y":0.0475,"lo":0.0428,"hi":0.0523},{"s":"0.1","r":82.2,"y":0.024,"lo":0.0216,"hi":0.0264},{"s":"0.1","r":118,"y":0.0142,"lo":0.0128,"hi":0.0156},{"s":"0.1","r":158,"y":0.0091,"lo":0.0082,"hi":0.01},{"s":"0.1","r":196,"y":0.0068,"lo":0.0061,"hi":0.0075},{"s":"0.1","r":244,"y":0.0043,"lo":0.00387,"hi":0.00473},{"s":"0.1","r":293,"y":0.0026,"lo":0.00234,"hi":0.00286},{"s":"0.1","r":351,"y":0.0017,"lo":0.00153,"hi":0.00187},{"s":"0.1","r":437,"y":0.00115,"lo":0.00104,"hi":0.00127},{"s":"0.1","r":585,"y":0.0008,"lo":0.00072,"hi":0.00088},{"s":"0.1","r":781,"y":0.00064,"lo":0.000576,"hi":0.000704},{"s":"0.1","r":971,"y":0.000525,"lo":0.000473,"hi":0.000578},
{"s":"1","r":2,"y":4.17,"lo":3.75,"hi":4.59},{"s":"1","r":2.91,"y":2.48,"lo":2.23,"hi":2.73},{"s":"1","r":4.5,"y":1.44,"lo":1.3,"hi":1.58},{"s":"1","r":6.95,"y":0.724,"lo":0.652,"hi":0.796},{"s":"1","r":10,"y":0.44,"lo":0.396,"hi":0.484},{"s":"1","r":15.5,"y":0.243,"lo":0.219,"hi":0.267},{"s":"1","r":22.2,"y":0.154,"lo":0.139,"hi":0.169},{"s":"1","r":34.4,"y":0.085,"lo":0.0765,"hi":0.0935},{"s":"1","r":53.2,"y":0.0493,"lo":0.0444,"hi":0.0542},{"s":"1","r":82.2,"y":0.0249,"lo":0.0224,"hi":0.0274},{"s":"1","r":118,"y":0.0144,"lo":0.013,"hi":0.0158},{"s":"1","r":158,"y":0.00914,"lo":0.00823,"hi":0.01005},{"s":"1","r":196,"y":0.00664,"lo":0.00598,"hi":0.0073},{"s":"1","r":244,"y":0.0044,"lo":0.00396,"hi":0.00484},{"s":"1","r":293,"y":0.00255,"lo":0.0023,"hi":0.0028},{"s":"1","r":351,"y":0.00169,"lo":0.00152,"hi":0.00186},{"s":"1","r":437,"y":0.00118,"lo":0.00106,"hi":0.0013},{"s":"1","r":585,"y":0.000816,"lo":0.000734,"hi":0.000898},{"s":"1","r":781,"y":0.00065,"lo":0.000585,"hi":0.000715},{"s":"1","r":971,"y":0.000532,"lo":0.000479,"hi":0.000585},
{"s":"10","r":2,"y":3.17,"lo":2.85,"hi":3.49},{"s":"10","r":2.91,"y":2.07,"lo":1.86,"hi":2.28},{"s":"10","r":4.5,"y":1.25,"lo":1.13,"hi":1.38},{"s":"10","r":6.95,"y":0.72,"lo":0.65,"hi":0.79},{"s":"10","r":10,"y":0.42,"lo":0.378,"hi":0.462},{"s":"10","r":15.5,"y":0.232,"lo":0.209,"hi":0.255},{"s":"10","r":22.2,"y":0.147,"lo":0.132,"hi":0.162},{"s":"10","r":34.4,"y":0.0743,"lo":0.0669,"hi":0.0817},{"s":"10","r":53.2,"y":0.0358,"lo":0.0322,"hi":0.0394},{"s":"10","r":82.2,"y":0.0158,"lo":0.0142,"hi":0.0174},{"s":"10","r":118,"y":0.01,"lo":0.009,"hi":0.011},{"s":"10","r":158,"y":0.00664,"lo":0.00598,"hi":0.0073},{"s":"10","r":227,"y":0.0042,"lo":0.00378,"hi":0.00462},{"s":"10","r":304,"y":0.00292,"lo":0.00263,"hi":0.00321},{"s":"10","r":406,"y":0.00217,"lo":0.00195,"hi":0.00239},{"s":"10","r":470,"y":0.00186,"lo":0.00167,"hi":0.00205},{"s":"10","r":543,"y":0.00155,"lo":0.0014,"hi":0.00171},{"s":"10","r":628,"y":0.00112,"lo":0.00101,"hi":0.00123},{"s":"10","r":726,"y":0.00078,"lo":0.0007,"hi":0.00086},{"s":"10","r":811,"y":0.000594,"lo":0.000535,"hi":0.000653},{"s":"10","r":971,"y":0.000552,"lo":0.000497,"hi":0.000607}
],
"GR":[
{"lab":"∝ r⁻³⁄²","r":3.37,"y":0.164},{"lab":"∝ r⁻³⁄²","r":160,"y":0.0005},
{"lab":"ℓ = 3.25","r":9.3,"y":0.239},{"lab":"ℓ = 3.25","r":19.2,"y":0.089},{"lab":"ℓ = 3.25","r":39.7,"y":0.0299},{"lab":"ℓ = 3.25","r":82.2,"y":0.01},{"lab":"ℓ = 3.25","r":170,"y":0.00367},{"lab":"ℓ = 3.25","r":304,"y":0.00177},{"lab":"ℓ = 3.25","r":470,"y":0.00103},{"lab":"ℓ = 3.25","r":676,"y":0.000713},{"lab":"ℓ = 3.25","r":971,"y":0.000518}
],
"H":[
{"s":"0.01","r":2,"y":0.036,"lo":0.0317,"hi":0.0403},{"s":"0.01","r":3,"y":0.029,"lo":0.0255,"hi":0.0325},{"s":"0.01","r":4.5,"y":0.022,"lo":0.0194,"hi":0.0246},{"s":"0.01","r":7,"y":0.0157,"lo":0.0138,"hi":0.0176},{"s":"0.01","r":10,"y":0.0122,"lo":0.0107,"hi":0.0137},{"s":"0.01","r":15,"y":0.0094,"lo":0.0083,"hi":0.0105},{"s":"0.01","r":22,"y":0.0076,"lo":0.0067,"hi":0.0085},{"s":"0.01","r":33,"y":0.0062,"lo":0.00546,"hi":0.00694},{"s":"0.01","r":50,"y":0.0049,"lo":0.00431,"hi":0.00549},{"s":"0.01","r":75,"y":0.0039,"lo":0.00343,"hi":0.00437},{"s":"0.01","r":100,"y":0.0031,"lo":0.00273,"hi":0.00347},{"s":"0.01","r":150,"y":0.00215,"lo":0.00189,"hi":0.00241},{"s":"0.01","r":220,"y":0.0016,"lo":0.00141,"hi":0.00179},{"s":"0.01","r":330,"y":0.00105,"lo":0.00092,"hi":0.00118},{"s":"0.01","r":500,"y":0.00082,"lo":0.00072,"hi":0.00092},
{"s":"0.1","r":2,"y":0.0338,"lo":0.0297,"hi":0.0379},{"s":"0.1","r":3,"y":0.0283,"lo":0.0249,"hi":0.0317},{"s":"0.1","r":4.5,"y":0.0227,"lo":0.02,"hi":0.0254},{"s":"0.1","r":7,"y":0.01663,"lo":0.01463,"hi":0.01863},{"s":"0.1","r":10,"y":0.01277,"lo":0.01124,"hi":0.0143},{"s":"0.1","r":15,"y":0.01,"lo":0.0088,"hi":0.0112},{"s":"0.1","r":22,"y":0.0078,"lo":0.00686,"hi":0.00874},{"s":"0.1","r":33,"y":0.00627,"lo":0.00552,"hi":0.00702},{"s":"0.1","r":50,"y":0.00492,"lo":0.00433,"hi":0.00551},{"s":"0.1","r":75,"y":0.00395,"lo":0.00348,"hi":0.00442},{"s":"0.1","r":100,"y":0.00316,"lo":0.00278,"hi":0.00354},{"s":"0.1","r":150,"y":0.00222,"lo":0.00195,"hi":0.00249},{"s":"0.1","r":220,"y":0.00156,"lo":0.00137,"hi":0.00175},{"s":"0.1","r":330,"y":0.000935,"lo":0.00082,"hi":0.00105},{"s":"0.1","r":500,"y":0.000767,"lo":0.00068,"hi":0.00086},{"s":"0.1","r":750,"y":0.00066,"lo":0.00058,"hi":0.00074},{"s":"0.1","r":960,"y":0.00062,"lo":0.000546,"hi":0.000694},
{"s":"1","r":2,"y":0.0378,"lo":0.0333,"hi":0.0423},{"s":"1","r":3,"y":0.0303,"lo":0.0267,"hi":0.0339},{"s":"1","r":4.5,"y":0.0222,"lo":0.0195,"hi":0.0249},{"s":"1","r":7,"y":0.0159,"lo":0.014,"hi":0.0178},{"s":"1","r":10,"y":0.01248,"lo":0.011,"hi":0.014},{"s":"1","r":15,"y":0.00957,"lo":0.00842,"hi":0.01072},{"s":"1","r":22,"y":0.00767,"lo":0.00675,"hi":0.00859},{"s":"1","r":33,"y":0.00614,"lo":0.0054,"hi":0.00688},{"s":"1","r":50,"y":0.00492,"lo":0.00433,"hi":0.00551},{"s":"1","r":75,"y":0.00386,"lo":0.0034,"hi":0.00432},{"s":"1","r":100,"y":0.00303,"lo":0.00267,"hi":0.00339},{"s":"1","r":150,"y":0.00212,"lo":0.00187,"hi":0.00237},{"s":"1","r":220,"y":0.00149,"lo":0.00131,"hi":0.00167},{"s":"1","r":330,"y":0.000978,"lo":0.00086,"hi":0.0011},{"s":"1","r":500,"y":0.0008,"lo":0.0007,"hi":0.0009},{"s":"1","r":750,"y":0.000671,"lo":0.00059,"hi":0.00075},{"s":"1","r":960,"y":0.000607,"lo":0.000534,"hi":0.00068},
{"s":"10","r":2,"y":0.0416,"lo":0.0366,"hi":0.0466},{"s":"10","r":3,"y":0.033,"lo":0.029,"hi":0.037},{"s":"10","r":4.5,"y":0.0253,"lo":0.0223,"hi":0.0283},{"s":"10","r":7,"y":0.019,"lo":0.0167,"hi":0.0213},{"s":"10","r":10,"y":0.0152,"lo":0.0134,"hi":0.017},{"s":"10","r":15,"y":0.01143,"lo":0.01006,"hi":0.0128},{"s":"10","r":22,"y":0.00875,"lo":0.0077,"hi":0.0098},{"s":"10","r":33,"y":0.00643,"lo":0.00566,"hi":0.0072},{"s":"10","r":50,"y":0.00492,"lo":0.00433,"hi":0.00551},{"s":"10","r":75,"y":0.00361,"lo":0.00318,"hi":0.00404},{"s":"10","r":100,"y":0.0029,"lo":0.00255,"hi":0.00325},{"s":"10","r":150,"y":0.00222,"lo":0.00195,"hi":0.00249},{"s":"10","r":220,"y":0.00178,"lo":0.00157,"hi":0.00199},{"s":"10","r":330,"y":0.00136,"lo":0.0012,"hi":0.00152},{"s":"10","r":500,"y":0.00112,"lo":0.00099,"hi":0.00125},{"s":"10","r":750,"y":0.0008,"lo":0.0007,"hi":0.0009},{"s":"10","r":960,"y":0.000678,"lo":0.000597,"hi":0.000759}
],
"HR":[
{"lab":"∝ r⁻¹","r":3.37,"y":0.0303},{"lab":"∝ r⁻¹","r":201,"y":0.000508},
{"lab":"ℓ","r":9.2,"y":0.0047},{"lab":"ℓ","r":17,"y":0.00361},{"lab":"ℓ","r":35.2,"y":0.00265},{"lab":"ℓ","r":72.6,"y":0.00194},{"lab":"ℓ","r":150,"y":0.00136},{"lab":"ℓ","r":310,"y":0.000916},{"lab":"ℓ","r":555,"y":0.000718},{"lab":"ℓ","r":957,"y":0.000614}
],
"I":[
{"s":"0.01","r":2,"y":0.253,"lo":0.233,"hi":0.273},{"s":"0.01","r":2.99,"y":0.173,"lo":0.159,"hi":0.187},{"s":"0.01","r":4.5,"y":0.105,"lo":0.0966,"hi":0.1134},{"s":"0.01","r":7,"y":0.0578,"lo":0.0532,"hi":0.0624},{"s":"0.01","r":10,"y":0.0287,"lo":0.0264,"hi":0.031},{"s":"0.01","r":15,"y":0.01294,"lo":0.0119,"hi":0.014},{"s":"0.01","r":22,"y":0.00643,"lo":0.00592,"hi":0.00694},{"s":"0.01","r":33.2,"y":0.0032,"lo":0.00294,"hi":0.00346},{"s":"0.01","r":50.2,"y":0.00159,"lo":0.00146,"hi":0.00172},{"s":"0.01","r":74.8,"y":0.0007,"lo":0.000644,"hi":0.000756},{"s":"0.01","r":100,"y":0.00029,"lo":0.000267,"hi":0.000313},{"s":"0.01","r":134,"y":0.00013,"lo":0.00008,"hi":0.00014},{"s":"0.01","r":179,"y":0.0000759,"lo":0.00005,"hi":0.000082},{"s":"0.01","r":239,"y":0.000062,"lo":0.000057,"hi":0.000067},{"s":"0.01","r":320,"y":0.0000325,"lo":0.0000299,"hi":0.0000351},{"s":"0.01","r":428,"y":0.0000178,"lo":0.0000164,"hi":0.0000192},{"s":"0.01","r":551,"y":0.00001,"lo":0.00001,"hi":0.0000108},
{"s":"0.1","r":2,"y":0.255,"lo":0.235,"hi":0.275},{"s":"0.1","r":2.99,"y":0.174,"lo":0.16,"hi":0.188},{"s":"0.1","r":4.5,"y":0.106,"lo":0.0975,"hi":0.1145},{"s":"0.1","r":7,"y":0.058,"lo":0.0534,"hi":0.0626},{"s":"0.1","r":10,"y":0.0288,"lo":0.0265,"hi":0.0311},{"s":"0.1","r":15,"y":0.013,"lo":0.012,"hi":0.014},{"s":"0.1","r":22,"y":0.00645,"lo":0.00593,"hi":0.00697},{"s":"0.1","r":33.2,"y":0.0032,"lo":0.00294,"hi":0.00346},{"s":"0.1","r":50.2,"y":0.0016,"lo":0.00147,"hi":0.00173},{"s":"0.1","r":64.7,"y":0.00088,"lo":0.00081,"hi":0.00095},{"s":"0.1","r":86.5,"y":0.00048,"lo":0.00044,"hi":0.00052},{"s":"0.1","r":116,"y":0.000216,"lo":0.000199,"hi":0.000233},{"s":"0.1","r":144,"y":0.000113,"lo":0.000104,"hi":0.000122},{"s":"0.1","r":179,"y":0.000076,"lo":0.00007,"hi":0.000082},{"s":"0.1","r":239,"y":0.000062,"lo":0.000057,"hi":0.000067},{"s":"0.1","r":320,"y":0.0000325,"lo":0.0000299,"hi":0.0000351},{"s":"0.1","r":428,"y":0.0000178,"lo":0.0000164,"hi":0.0000192},{"s":"0.1","r":551,"y":0.00001,"lo":0.00001,"hi":0.0000108},
{"s":"1","r":2,"y":0.253,"lo":0.233,"hi":0.273},{"s":"1","r":2.99,"y":0.173,"lo":0.159,"hi":0.187},{"s":"1","r":4.5,"y":0.105,"lo":0.0966,"hi":0.1134},{"s":"1","r":7,"y":0.0578,"lo":0.0532,"hi":0.0624},{"s":"1","r":10,"y":0.0287,"lo":0.0264,"hi":0.031},{"s":"1","r":15,"y":0.01294,"lo":0.0119,"hi":0.014},{"s":"1","r":22,"y":0.00643,"lo":0.00592,"hi":0.00694},{"s":"1","r":33.2,"y":0.0032,"lo":0.00294,"hi":0.00346},{"s":"1","r":50.2,"y":0.00159,"lo":0.00146,"hi":0.00172},{"s":"1","r":74.8,"y":0.000648,"lo":0.000596,"hi":0.0007},{"s":"1","r":100,"y":0.000264,"lo":0.000243,"hi":0.000285},{"s":"1","r":134,"y":0.000119,"lo":0.00008,"hi":0.000129},{"s":"1","r":179,"y":0.0000759,"lo":0.00005,"hi":0.000082},{"s":"1","r":239,"y":0.000062,"lo":0.000057,"hi":0.000067},{"s":"1","r":320,"y":0.0000325,"lo":0.0000299,"hi":0.0000351},{"s":"1","r":428,"y":0.0000178,"lo":0.0000164,"hi":0.0000192},{"s":"1","r":551,"y":0.00001,"lo":0.00001,"hi":0.0000108},
{"s":"10","r":2,"y":0.238,"lo":0.214,"hi":0.262},{"s":"10","r":2.99,"y":0.157,"lo":0.141,"hi":0.173},{"s":"10","r":4.5,"y":0.0951,"lo":0.0856,"hi":0.1046},{"s":"10","r":7,"y":0.0473,"lo":0.0426,"hi":0.052},{"s":"10","r":10,"y":0.0247,"lo":0.0222,"hi":0.0272},{"s":"10","r":15,"y":0.0106,"lo":0.0095,"hi":0.0117},{"s":"10","r":22,"y":0.00476,"lo":0.00428,"hi":0.00524},{"s":"10","r":33.2,"y":0.00215,"lo":0.00194,"hi":0.00237},{"s":"10","r":50.2,"y":0.00102,"lo":0.00092,"hi":0.00112},{"s":"10","r":74.8,"y":0.000457,"lo":0.00041,"hi":0.0005},{"s":"10","r":100,"y":0.000216,"lo":0.00017,"hi":0.00026},{"s":"10","r":134,"y":0.000125,"lo":0.0001,"hi":0.00015},{"s":"10","r":179,"y":0.0000838,"lo":0.0000754,"hi":0.0000922},{"s":"10","r":239,"y":0.000062,"lo":0.0000558,"hi":0.0000682},{"s":"10","r":286,"y":0.0000417,"lo":0.0000375,"hi":0.0000459},{"s":"10","r":343,"y":0.0000266,"lo":0.000024,"hi":0.0000293},{"s":"10","r":392,"y":0.000011,"lo":0.00001,"hi":0.0000125},{"s":"10","r":400,"y":0.0000108,"lo":0.00001,"hi":0.000012},{"s":"10","r":494,"y":0.0000108,"lo":0.00001,"hi":0.000012},{"s":"10","r":530,"y":0.00001,"lo":0.00001,"hi":0.0000112}
],
"IR":[
{"lab":"∝ r⁻³⁄²","r":3.29,"y":0.165},{"lab":"∝ r⁻³⁄²","r":903,"y":0.000037},
{"lab":"ℓ","r":9.3,"y":0.0274},{"lab":"ℓ","r":15.1,"y":0.0096},{"lab":"ℓ","r":23.4,"y":0.00391},{"lab":"ℓ","r":36.1,"y":0.00167},{"lab":"ℓ","r":56,"y":0.000716},{"lab":"ℓ","r":86.5,"y":0.000292},{"lab":"ℓ","r":134,"y":0.000131},{"lab":"ℓ","r":207,"y":0.000059},{"lab":"ℓ","r":320,"y":0.0000266},{"lab":"ℓ","r":494,"y":0.000012}
]
},
"concat":[
{"width":312,"height":362,
 "encoding":{"x":{"field":"r","type":"quantitative","scale":{"type":"log","domain":[1.47,1306],"nice":false},"axis":{"values":[2,3,4,5,6,7,8,9,10,20,30,40,50,60,70,80,90,100,200,300,400,500,600,700,800,900,1000],"labels":false,"title":null,"tickSize":{"condition":{"test":"datum.value==10||datum.value==100||datum.value==1000","value":5},"value":3}}}},
 "layer":[
  {"data":{"name":"A"},"transform":[{"filter":"isValid(datum.hi)"}],"mark":{"type":"area","opacity":0.2,"clip":true},
   "encoding":{"y":{"field":"lo","type":"quantitative","title":"⟨ρ⟩","scale":{"type":"log","domain":[0.0005,10],"nice":false},"axis":{"values":[0.0006,0.0007,0.0008,0.0009,0.001,0.002,0.003,0.004,0.005,0.006,0.007,0.008,0.009,0.01,0.02,0.03,0.04,0.05,0.06,0.07,0.08,0.09,0.1,0.2,0.3,0.4,0.5,0.6,0.7,0.8,0.9,1,2,3,4,5,6,7,8,9,10],"labelExpr":"datum.value==10?'10¹':datum.value==1?'10⁰':datum.value==0.1?'10⁻¹':datum.value==0.01?'10⁻²':datum.value==0.001?'10⁻³':datum.value==0.0001?'10⁻⁴':datum.value==0.00001?'10⁻⁵':''","tickSize":{"condition":{"test":"datum.value==10||datum.value==1||datum.value==0.1||datum.value==0.01||datum.value==0.001||datum.value==0.0001||datum.value==0.00001","value":5},"value":3},"titlePadding":6}},
    "y2":{"field":"hi"},
    "fill":{"field":"s","type":"nominal","scale":{"domain":["10","1","0.1","0.01"],"range":["#d62728","#2ca02c","#ff7f0e","#1f77b4"]},"legend":null}}},
  {"data":{"name":"A"},"transform":[{"filter":"isValid(datum.y)"}],"mark":{"type":"line","strokeWidth":1.8,"clip":true},
   "encoding":{"y":{"field":"y","type":"quantitative","scale":{"type":"log","nice":false}},"color":{"field":"s","type":"nominal","scale":{"domain":["0.01","0.1","1","10"],"range":["#1f77b4","#ff7f0e","#2ca02c","#d62728"]},"legend":null},"detail":{"field":"g","type":"nominal"}}},
  {"data":{"name":"AR"},"mark":{"type":"line","color":"black","strokeWidth":1.8,"clip":true},
   "encoding":{"y":{"field":"y","type":"quantitative","scale":{"type":"log","nice":false}},"strokeDash":{"field":"lab","type":"nominal","scale":{"domain":["∝ r⁻³⁄²","ℓ = 0"],"range":[[10,3,2,3],[2,3]]},"legend":{"orient":"none","legendX":112,"legendY":7,"title":null,"symbolStrokeColor":"black","symbolType":"M-1.3,0H1.3"}}}}
 ]},
{"width":312,"height":362,
 "encoding":{"x":{"field":"r","type":"quantitative","scale":{"type":"log","domain":[1.47,1306],"nice":false},"axis":{"values":[2,3,4,5,6,7,8,9,10,20,30,40,50,60,70,80,90,100,200,300,400,500,600,700,800,900,1000],"labels":false,"title":null,"tickSize":{"condition":{"test":"datum.value==10||datum.value==100||datum.value==1000","value":5},"value":3}}}},
 "layer":[
  {"data":{"name":"B"},"transform":[{"filter":"isValid(datum.hi)"}],"mark":{"type":"area","opacity":0.2,"clip":true},
   "encoding":{"y":{"field":"lo","type":"quantitative","title":"⟨p/ρ⟩","scale":{"type":"log","domain":[0.0005,0.061],"nice":false},"axis":{"values":[0.0006,0.0007,0.0008,0.0009,0.001,0.002,0.003,0.004,0.005,0.006,0.007,0.008,0.009,0.01,0.02,0.03,0.04,0.05,0.06],"labelExpr":"datum.value==10?'10¹':datum.value==1?'10⁰':datum.value==0.1?'10⁻¹':datum.value==0.01?'10⁻²':datum.value==0.001?'10⁻³':datum.value==0.0001?'10⁻⁴':datum.value==0.00001?'10⁻⁵':''","tickSize":{"condition":{"test":"datum.value==10||datum.value==1||datum.value==0.1||datum.value==0.01||datum.value==0.001||datum.value==0.0001||datum.value==0.00001","value":5},"value":3},"titlePadding":6}},
    "y2":{"field":"hi"},
    "fill":{"field":"s","type":"nominal","scale":{"domain":["10","1","0.1","0.01"],"range":["#d62728","#2ca02c","#ff7f0e","#1f77b4"]},"legend":null}}},
  {"data":{"name":"B"},"transform":[{"filter":"isValid(datum.y)"}],"mark":{"type":"line","strokeWidth":1.8,"clip":true},
   "encoding":{"y":{"field":"y","type":"quantitative","scale":{"type":"log","nice":false}},"color":{"field":"s","type":"nominal","scale":{"domain":["0.01","0.1","1","10"],"range":["#1f77b4","#ff7f0e","#2ca02c","#d62728"]},"legend":null},"detail":{"field":"g","type":"nominal"}}},
  {"data":{"name":"BR"},"mark":{"type":"line","color":"black","strokeWidth":1.8,"clip":true},
   "encoding":{"y":{"field":"y","type":"quantitative","scale":{"type":"log","nice":false}},"strokeDash":{"field":"lab","type":"nominal","scale":{"domain":["∝ r⁻¹","ℓ"],"range":[[10,3,2,3],[2,3]]},"legend":{"orient":"none","legendX":116,"legendY":6,"title":null,"values":["∝ r⁻¹"],"symbolStrokeColor":"black","symbolType":"M-1.3,0H1.3"}}}}
 ]},
{"width":312,"height":362,
 "encoding":{"x":{"field":"r","type":"quantitative","scale":{"type":"log","domain":[1.47,1306],"nice":false},"axis":{"values":[2,3,4,5,6,7,8,9,10,20,30,40,50,60,70,80,90,100,200,300,400,500,600,700,800,900,1000],"labels":false,"title":null,"tickSize":{"condition":{"test":"datum.value==10||datum.value==100||datum.value==1000","value":5},"value":3}}}},
 "layer":[
  {"data":{"name":"C"},"transform":[{"filter":"isValid(datum.hi)"}],"mark":{"type":"area","opacity":0.2,"clip":true},
   "encoding":{"y":{"field":"lo","type":"quantitative","title":"⟨Ω(θ = π/2)⟩","scale":{"type":"log","domain":[0.00001,0.5],"nice":false},"axis":{"values":[0.00001,0.00002,0.00003,0.00004,0.00005,0.00006,0.00007,0.00008,0.00009,0.0001,0.0002,0.0003,0.0004,0.0005,0.0006,0.0007,0.0008,0.0009,0.001,0.002,0.003,0.004,0.005,0.006,0.007,0.008,0.009,0.01,0.02,0.03,0.04,0.05,0.06,0.07,0.08,0.09,0.1,0.2,0.3,0.4,0.5],"labelExpr":"datum.value==10?'10¹':datum.value==1?'10⁰':datum.value==0.1?'10⁻¹':datum.value==0.01?'10⁻²':datum.value==0.001?'10⁻³':datum.value==0.0001?'10⁻⁴':datum.value==0.00001?'10⁻⁵':''","tickSize":{"condition":{"test":"datum.value==10||datum.value==1||datum.value==0.1||datum.value==0.01||datum.value==0.001||datum.value==0.0001||datum.value==0.00001","value":5},"value":3},"titlePadding":6}},
    "y2":{"field":"hi"},
    "fill":{"field":"s","type":"nominal","scale":{"domain":["10","1","0.1","0.01"],"range":["#d62728","#2ca02c","#ff7f0e","#1f77b4"]},"legend":null}}},
  {"data":{"name":"C"},"transform":[{"filter":"isValid(datum.y)"}],"mark":{"type":"line","strokeWidth":1.8,"clip":true},
   "encoding":{"y":{"field":"y","type":"quantitative","scale":{"type":"log","nice":false}},"color":{"field":"s","type":"nominal","scale":{"domain":["0.01","0.1","1","10"],"range":["#1f77b4","#ff7f0e","#2ca02c","#d62728"]},"legend":{"orient":"top-right","offset":7,"title":null,"labelExpr":"'δ = ' + datum.label","symbolSize":361,"symbolType":"M-1.45,0H1.45","labelOffset":12,"rowPadding":0}},"detail":{"field":"g","type":"nominal"}}},
  {"data":{"name":"CR"},"mark":{"type":"line","color":"black","strokeWidth":1.8,"clip":true},
   "encoding":{"y":{"field":"y","type":"quantitative","scale":{"type":"log","nice":false}},"strokeDash":{"field":"lab","type":"nominal","scale":{"domain":["∝ r⁻³⁄²"],"range":[[10,3,2,3]]},"legend":{"orient":"none","legendX":111,"legendY":7,"title":null,"symbolStrokeColor":"black","symbolType":"M-1.3,0H1.3"}}}}
 ]},
{"width":312,"height":362,
 "encoding":{"x":{"field":"r","type":"quantitative","scale":{"type":"log","domain":[1.47,1306],"nice":false},"axis":{"values":[2,3,4,5,6,7,8,9,10,20,30,40,50,60,70,80,90,100,200,300,400,500,600,700,800,900,1000],"labels":false,"title":null,"tickSize":{"condition":{"test":"datum.value==10||datum.value==100||datum.value==1000","value":5},"value":3}}}},
 "layer":[
  {"data":{"name":"D"},"transform":[{"filter":"isValid(datum.hi)"}],"mark":{"type":"area","opacity":0.2,"clip":true},
   "encoding":{"y":{"field":"lo","type":"quantitative","title":"⟨ρ⟩","scale":{"type":"log","domain":[0.0005,10],"nice":false},"axis":{"values":[0.0006,0.0007,0.0008,0.0009,0.001,0.002,0.003,0.004,0.005,0.006,0.007,0.008,0.009,0.01,0.02,0.03,0.04,0.05,0.06,0.07,0.08,0.09,0.1,0.2,0.3,0.4,0.5,0.6,0.7,0.8,0.9,1,2,3,4,5,6,7,8,9,10],"labelExpr":"datum.value==10?'10¹':datum.value==1?'10⁰':datum.value==0.1?'10⁻¹':datum.value==0.01?'10⁻²':datum.value==0.001?'10⁻³':datum.value==0.0001?'10⁻⁴':datum.value==0.00001?'10⁻⁵':''","tickSize":{"condition":{"test":"datum.value==10||datum.value==1||datum.value==0.1||datum.value==0.01||datum.value==0.001||datum.value==0.0001||datum.value==0.00001","value":5},"value":3},"titlePadding":6}},
    "y2":{"field":"hi"},
    "fill":{"field":"s","type":"nominal","scale":{"domain":["10","1","0.1","0.01"],"range":["#d62728","#2ca02c","#ff7f0e","#1f77b4"]},"legend":null}}},
  {"data":{"name":"D"},"transform":[{"filter":"isValid(datum.y)"}],"mark":{"type":"line","strokeWidth":1.8,"clip":true},
   "encoding":{"y":{"field":"y","type":"quantitative","scale":{"type":"log","nice":false}},"color":{"field":"s","type":"nominal","scale":{"domain":["0.01","0.1","1","10"],"range":["#1f77b4","#ff7f0e","#2ca02c","#d62728"]},"legend":null},"detail":{"field":"g","type":"nominal"}}},
  {"data":{"name":"DR"},"mark":{"type":"line","color":"black","strokeWidth":1.8,"clip":true},
   "encoding":{"y":{"field":"y","type":"quantitative","scale":{"type":"log","nice":false}},"strokeDash":{"field":"lab","type":"nominal","scale":{"domain":["∝ r⁻³⁄²","ℓ = 2.25"],"range":[[10,3,2,3],[2,3]]},"legend":{"orient":"none","legendX":109,"legendY":7,"title":null,"symbolStrokeColor":"black","symbolType":"M-1.3,0H1.3"}}}}
 ]},
{"width":312,"height":362,
 "encoding":{"x":{"field":"r","type":"quantitative","scale":{"type":"log","domain":[1.47,1306],"nice":false},"axis":{"values":[2,3,4,5,6,7,8,9,10,20,30,40,50,60,70,80,90,100,200,300,400,500,600,700,800,900,1000],"labels":false,"title":null,"tickSize":{"condition":{"test":"datum.value==10||datum.value==100||datum.value==1000","value":5},"value":3}}}},
 "layer":[
  {"data":{"name":"E"},"transform":[{"filter":"isValid(datum.hi)"}],"mark":{"type":"area","opacity":0.2,"clip":true},
   "encoding":{"y":{"field":"lo","type":"quantitative","title":"⟨p/ρ⟩","scale":{"type":"log","domain":[0.0005,0.061],"nice":false},"axis":{"values":[0.0006,0.0007,0.0008,0.0009,0.001,0.002,0.003,0.004,0.005,0.006,0.007,0.008,0.009,0.01,0.02,0.03,0.04,0.05,0.06],"labelExpr":"datum.value==10?'10¹':datum.value==1?'10⁰':datum.value==0.1?'10⁻¹':datum.value==0.01?'10⁻²':datum.value==0.001?'10⁻³':datum.value==0.0001?'10⁻⁴':datum.value==0.00001?'10⁻⁵':''","tickSize":{"condition":{"test":"datum.value==10||datum.value==1||datum.value==0.1||datum.value==0.01||datum.value==0.001||datum.value==0.0001||datum.value==0.00001","value":5},"value":3},"titlePadding":6}},
    "y2":{"field":"hi"},
    "fill":{"field":"s","type":"nominal","scale":{"domain":["10","1","0.1","0.01"],"range":["#d62728","#2ca02c","#ff7f0e","#1f77b4"]},"legend":null}}},
  {"data":{"name":"E"},"transform":[{"filter":"isValid(datum.y)"}],"mark":{"type":"line","strokeWidth":1.8,"clip":true},
   "encoding":{"y":{"field":"y","type":"quantitative","scale":{"type":"log","nice":false}},"color":{"field":"s","type":"nominal","scale":{"domain":["0.01","0.1","1","10"],"range":["#1f77b4","#ff7f0e","#2ca02c","#d62728"]},"legend":null},"detail":{"field":"g","type":"nominal"}}},
  {"data":{"name":"ER"},"mark":{"type":"line","color":"black","strokeWidth":1.8,"clip":true},
   "encoding":{"y":{"field":"y","type":"quantitative","scale":{"type":"log","nice":false}},"strokeDash":{"field":"lab","type":"nominal","scale":{"domain":["∝ r⁻¹","ℓ"],"range":[[10,3,2,3],[2,3]]},"legend":{"orient":"none","legendX":116,"legendY":6,"title":null,"values":["∝ r⁻¹"],"symbolStrokeColor":"black","symbolType":"M-1.3,0H1.3"}}}}
 ]},
{"width":312,"height":362,
 "encoding":{"x":{"field":"r","type":"quantitative","scale":{"type":"log","domain":[1.47,1306],"nice":false},"axis":{"values":[2,3,4,5,6,7,8,9,10,20,30,40,50,60,70,80,90,100,200,300,400,500,600,700,800,900,1000],"labels":false,"title":null,"tickSize":{"condition":{"test":"datum.value==10||datum.value==100||datum.value==1000","value":5},"value":3}}}},
 "layer":[
  {"data":{"name":"F"},"transform":[{"filter":"isValid(datum.hi)"}],"mark":{"type":"area","opacity":0.2,"clip":true},
   "encoding":{"y":{"field":"lo","type":"quantitative","title":"⟨Ω(θ = π/2)⟩","scale":{"type":"log","domain":[0.00001,0.5],"nice":false},"axis":{"values":[0.00001,0.00002,0.00003,0.00004,0.00005,0.00006,0.00007,0.00008,0.00009,0.0001,0.0002,0.0003,0.0004,0.0005,0.0006,0.0007,0.0008,0.0009,0.001,0.002,0.003,0.004,0.005,0.006,0.007,0.008,0.009,0.01,0.02,0.03,0.04,0.05,0.06,0.07,0.08,0.09,0.1,0.2,0.3,0.4,0.5],"labelExpr":"datum.value==10?'10¹':datum.value==1?'10⁰':datum.value==0.1?'10⁻¹':datum.value==0.01?'10⁻²':datum.value==0.001?'10⁻³':datum.value==0.0001?'10⁻⁴':datum.value==0.00001?'10⁻⁵':''","tickSize":{"condition":{"test":"datum.value==10||datum.value==1||datum.value==0.1||datum.value==0.01||datum.value==0.001||datum.value==0.0001||datum.value==0.00001","value":5},"value":3},"titlePadding":6}},
    "y2":{"field":"hi"},
    "fill":{"field":"s","type":"nominal","scale":{"domain":["10","1","0.1","0.01"],"range":["#d62728","#2ca02c","#ff7f0e","#1f77b4"]},"legend":null}}},
  {"data":{"name":"F"},"transform":[{"filter":"isValid(datum.y)"}],"mark":{"type":"line","strokeWidth":1.8,"clip":true},
   "encoding":{"y":{"field":"y","type":"quantitative","scale":{"type":"log","nice":false}},"color":{"field":"s","type":"nominal","scale":{"domain":["0.01","0.1","1","10"],"range":["#1f77b4","#ff7f0e","#2ca02c","#d62728"]},"legend":null},"detail":{"field":"g","type":"nominal"}}},
  {"data":{"name":"FR"},"mark":{"type":"line","color":"black","strokeWidth":1.8,"clip":true},
   "encoding":{"y":{"field":"y","type":"quantitative","scale":{"type":"log","nice":false}},"strokeDash":{"field":"lab","type":"nominal","scale":{"domain":["∝ r⁻³⁄²","ℓ"],"range":[[10,3,2,3],[2,3]]},"legend":{"orient":"none","legendX":111,"legendY":7,"title":null,"values":["∝ r⁻³⁄²"],"symbolStrokeColor":"black","symbolType":"M-1.3,0H1.3"}}}}
 ]},
{"width":312,"height":362,
 "encoding":{"x":{"field":"r","type":"quantitative","scale":{"type":"log","domain":[1.47,1306],"nice":false},"axis":{"values":[2,3,4,5,6,7,8,9,10,20,30,40,50,60,70,80,90,100,200,300,400,500,600,700,800,900,1000],"labelExpr":"datum.value==10?'10¹':datum.value==100?'10²':datum.value==1000?'10³':''","title":"r [M]","titleFontStyle":"italic","titlePadding":7,"tickSize":{"condition":{"test":"datum.value==10||datum.value==100||datum.value==1000","value":5},"value":3}}}},
 "layer":[
  {"data":{"name":"G"},"transform":[{"filter":"isValid(datum.hi)"}],"mark":{"type":"area","opacity":0.2,"clip":true},
   "encoding":{"y":{"field":"lo","type":"quantitative","title":"⟨ρ⟩","scale":{"type":"log","domain":[0.0005,10],"nice":false},"axis":{"values":[0.0006,0.0007,0.0008,0.0009,0.001,0.002,0.003,0.004,0.005,0.006,0.007,0.008,0.009,0.01,0.02,0.03,0.04,0.05,0.06,0.07,0.08,0.09,0.1,0.2,0.3,0.4,0.5,0.6,0.7,0.8,0.9,1,2,3,4,5,6,7,8,9,10],"labelExpr":"datum.value==10?'10¹':datum.value==1?'10⁰':datum.value==0.1?'10⁻¹':datum.value==0.01?'10⁻²':datum.value==0.001?'10⁻³':datum.value==0.0001?'10⁻⁴':datum.value==0.00001?'10⁻⁵':''","tickSize":{"condition":{"test":"datum.value==10||datum.value==1||datum.value==0.1||datum.value==0.01||datum.value==0.001||datum.value==0.0001||datum.value==0.00001","value":5},"value":3},"titlePadding":6}},
    "y2":{"field":"hi"},
    "fill":{"field":"s","type":"nominal","scale":{"domain":["10","1","0.1","0.01"],"range":["#d62728","#2ca02c","#ff7f0e","#1f77b4"]},"legend":null}}},
  {"data":{"name":"G"},"transform":[{"filter":"isValid(datum.y)"}],"mark":{"type":"line","strokeWidth":1.8,"clip":true},
   "encoding":{"y":{"field":"y","type":"quantitative","scale":{"type":"log","nice":false}},"color":{"field":"s","type":"nominal","scale":{"domain":["0.01","0.1","1","10"],"range":["#1f77b4","#ff7f0e","#2ca02c","#d62728"]},"legend":null},"detail":{"field":"g","type":"nominal"}}},
  {"data":{"name":"GR"},"mark":{"type":"line","color":"black","strokeWidth":1.8,"clip":true},
   "encoding":{"y":{"field":"y","type":"quantitative","scale":{"type":"log","nice":false}},"strokeDash":{"field":"lab","type":"nominal","scale":{"domain":["∝ r⁻³⁄²","ℓ = 3.25"],"range":[[10,3,2,3],[2,3]]},"legend":{"orient":"none","legendX":109,"legendY":7,"title":null,"symbolStrokeColor":"black","symbolType":"M-1.3,0H1.3"}}}}
 ]},
{"width":312,"height":362,
 "encoding":{"x":{"field":"r","type":"quantitative","scale":{"type":"log","domain":[1.47,1306],"nice":false},"axis":{"values":[2,3,4,5,6,7,8,9,10,20,30,40,50,60,70,80,90,100,200,300,400,500,600,700,800,900,1000],"labelExpr":"datum.value==10?'10¹':datum.value==100?'10²':datum.value==1000?'10³':''","title":"r [M]","titleFontStyle":"italic","titlePadding":7,"tickSize":{"condition":{"test":"datum.value==10||datum.value==100||datum.value==1000","value":5},"value":3}}}},
 "layer":[
  {"data":{"name":"H"},"transform":[{"filter":"isValid(datum.hi)"}],"mark":{"type":"area","opacity":0.2,"clip":true},
   "encoding":{"y":{"field":"lo","type":"quantitative","title":"⟨p/ρ⟩","scale":{"type":"log","domain":[0.0005,0.061],"nice":false},"axis":{"values":[0.0006,0.0007,0.0008,0.0009,0.001,0.002,0.003,0.004,0.005,0.006,0.007,0.008,0.009,0.01,0.02,0.03,0.04,0.05,0.06],"labelExpr":"datum.value==10?'10¹':datum.value==1?'10⁰':datum.value==0.1?'10⁻¹':datum.value==0.01?'10⁻²':datum.value==0.001?'10⁻³':datum.value==0.0001?'10⁻⁴':datum.value==0.00001?'10⁻⁵':''","tickSize":{"condition":{"test":"datum.value==10||datum.value==1||datum.value==0.1||datum.value==0.01||datum.value==0.001||datum.value==0.0001||datum.value==0.00001","value":5},"value":3},"titlePadding":6}},
    "y2":{"field":"hi"},
    "fill":{"field":"s","type":"nominal","scale":{"domain":["10","1","0.1","0.01"],"range":["#d62728","#2ca02c","#ff7f0e","#1f77b4"]},"legend":null}}},
  {"data":{"name":"H"},"transform":[{"filter":"isValid(datum.y)"}],"mark":{"type":"line","strokeWidth":1.8,"clip":true},
   "encoding":{"y":{"field":"y","type":"quantitative","scale":{"type":"log","nice":false}},"color":{"field":"s","type":"nominal","scale":{"domain":["0.01","0.1","1","10"],"range":["#1f77b4","#ff7f0e","#2ca02c","#d62728"]},"legend":null},"detail":{"field":"g","type":"nominal"}}},
  {"data":{"name":"HR"},"mark":{"type":"line","color":"black","strokeWidth":1.8,"clip":true},
   "encoding":{"y":{"field":"y","type":"quantitative","scale":{"type":"log","nice":false}},"strokeDash":{"field":"lab","type":"nominal","scale":{"domain":["∝ r⁻¹","ℓ"],"range":[[10,3,2,3],[2,3]]},"legend":{"orient":"none","legendX":116,"legendY":6,"title":null,"values":["∝ r⁻¹"],"symbolStrokeColor":"black","symbolType":"M-1.3,0H1.3"}}}}
 ]},
{"width":312,"height":362,
 "encoding":{"x":{"field":"r","type":"quantitative","scale":{"type":"log","domain":[1.47,1306],"nice":false},"axis":{"values":[2,3,4,5,6,7,8,9,10,20,30,40,50,60,70,80,90,100,200,300,400,500,600,700,800,900,1000],"labelExpr":"datum.value==10?'10¹':datum.value==100?'10²':datum.value==1000?'10³':''","title":"r [M]","titleFontStyle":"italic","titlePadding":7,"tickSize":{"condition":{"test":"datum.value==10||datum.value==100||datum.value==1000","value":5},"value":3}}}},
 "layer":[
  {"data":{"name":"I"},"transform":[{"filter":"isValid(datum.hi)"}],"mark":{"type":"area","opacity":0.2,"clip":true},
   "encoding":{"y":{"field":"lo","type":"quantitative","title":"⟨Ω(θ = π/2)⟩","scale":{"type":"log","domain":[0.00001,0.5],"nice":false},"axis":{"values":[0.00001,0.00002,0.00003,0.00004,0.00005,0.00006,0.00007,0.00008,0.00009,0.0001,0.0002,0.0003,0.0004,0.0005,0.0006,0.0007,0.0008,0.0009,0.001,0.002,0.003,0.004,0.005,0.006,0.007,0.008,0.009,0.01,0.02,0.03,0.04,0.05,0.06,0.07,0.08,0.09,0.1,0.2,0.3,0.4,0.5],"labelExpr":"datum.value==10?'10¹':datum.value==1?'10⁰':datum.value==0.1?'10⁻¹':datum.value==0.01?'10⁻²':datum.value==0.001?'10⁻³':datum.value==0.0001?'10⁻⁴':datum.value==0.00001?'10⁻⁵':''","tickSize":{"condition":{"test":"datum.value==10||datum.value==1||datum.value==0.1||datum.value==0.01||datum.value==0.001||datum.value==0.0001||datum.value==0.00001","value":5},"value":3},"titlePadding":6}},
    "y2":{"field":"hi"},
    "fill":{"field":"s","type":"nominal","scale":{"domain":["10","1","0.1","0.01"],"range":["#d62728","#2ca02c","#ff7f0e","#1f77b4"]},"legend":null}}},
  {"data":{"name":"I"},"transform":[{"filter":"isValid(datum.y)"}],"mark":{"type":"line","strokeWidth":1.8,"clip":true},
   "encoding":{"y":{"field":"y","type":"quantitative","scale":{"type":"log","nice":false}},"color":{"field":"s","type":"nominal","scale":{"domain":["0.01","0.1","1","10"],"range":["#1f77b4","#ff7f0e","#2ca02c","#d62728"]},"legend":null},"detail":{"field":"g","type":"nominal"}}},
  {"data":{"name":"IR"},"mark":{"type":"line","color":"black","strokeWidth":1.8,"clip":true},
   "encoding":{"y":{"field":"y","type":"quantitative","scale":{"type":"log","nice":false}},"strokeDash":{"field":"lab","type":"nominal","scale":{"domain":["∝ r⁻³⁄²","ℓ"],"range":[[10,3,2,3],[2,3]]},"legend":{"orient":"none","legendX":111,"legendY":7,"title":null,"values":["∝ r⁻³⁄²"],"symbolStrokeColor":"black","symbolType":"M-1.3,0H1.3"}}}}
 ]}
]
}
